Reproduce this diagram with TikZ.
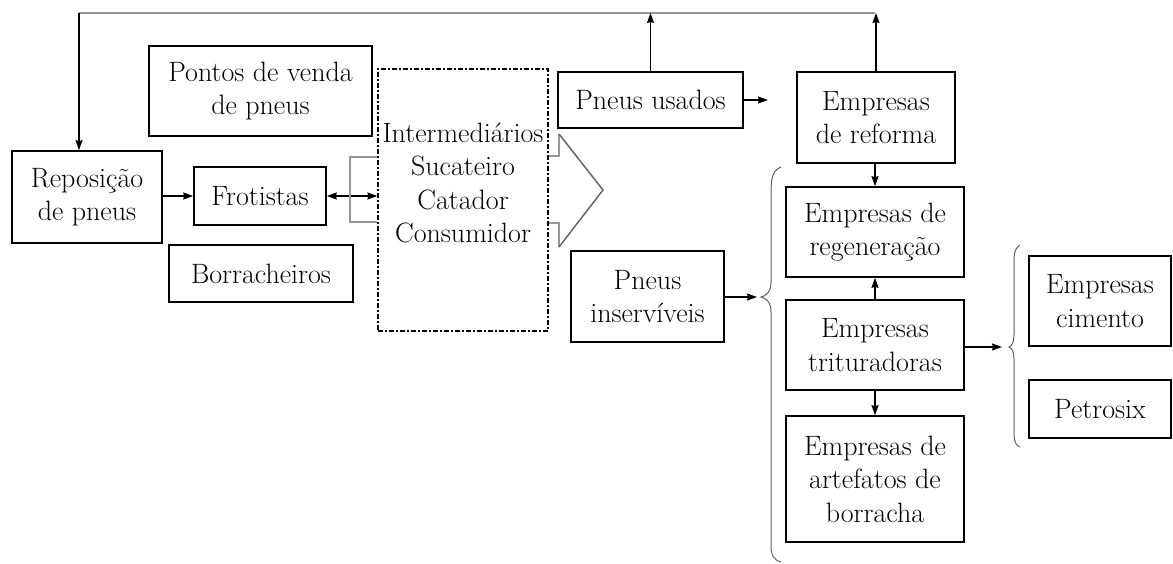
\documentclass[tikz,border=0pt]{standalone}
\usetikzlibrary{arrows.meta}
\definecolor{lgray}{RGB}{150,150,150}
\definecolor{dgray}{RGB}{95,95,95}
\begin{document}
\begin{tikzpicture}[x=1pt,y=-1pt,
  box/.style={draw=black,line width=1.6pt,align=center,inner sep=0pt,
    font=\fontsize{28}{33.5}\selectfont},
  dashbox/.style={draw=black,line width=1.2pt,dash pattern=on 5pt off 2pt on 2pt off 2pt,inner sep=0pt},
  txt/.style={align=center,inner sep=0pt,font=\fontsize{28}{33.5}\selectfont},
  arr/.style={line width=1.5pt,-{Stealth[length=10pt,width=7pt,inset=1pt]}},
  dbl/.style={line width=1.5pt,{Stealth[length=10pt,width=7pt,inset=1pt]}-{Stealth[length=10pt,width=7pt,inset=1pt]}},
  grayline/.style={draw=lgray,line width=1.8pt},
  bracestyle/.style={draw=dgray,line width=1pt}]
\useasboundingbox (0,0) rectangle (1173,563);

% boxes
\node[box,minimum width=150pt,minimum height=92pt] (rep) at (87,197) {Reposição\\de pneus};
\node[box,minimum width=223pt,minimum height=90pt] (pontos) at (260.5,91) {Pontos de venda\\de pneus};
\node[box,minimum width=132pt,minimum height=58pt] (frot) at (260,196) {Frotistas};
\node[box,minimum width=184pt,minimum height=57pt] (borr) at (261,273.5) {Borracheiros};
\node[dashbox,minimum width=170pt,minimum height=262pt] (inter) at (463,200) {};
\node[txt] (intertxt) at (463,183) {Intermediários\\Sucateiro\\Catador\\Consumidor};
\node[box,minimum width=185pt,minimum height=56pt] (usados) at (650.5,100) {Pneus usados};
\node[box,minimum width=158pt,minimum height=91pt] (reforma) at (876,117.5) {Empresas\\de reforma};
\node[box,minimum width=178pt,minimum height=90pt] (regen) at (875,232) {Empresas de\\regeneração};
\node[box,minimum width=178pt,minimum height=90pt] (trit) at (875,345) {Empresas\\trituradoras};
\node[box,minimum width=178pt,minimum height=126pt] (artef) at (875,479) {Empresas de\\artefatos de\\borracha};
\node[box,minimum width=153pt,minimum height=91pt] (inserv) at (647.5,296.5) {Pneus\\inservíveis};
\node[box,minimum width=142pt,minimum height=90pt] (cimento) at (1100,301) {Empresas\\cimento};
\node[box,minimum width=142pt,minimum height=58pt] (petro) at (1100,409) {Petrosix};

% top feedback line
\coordinate (tl) at (79,13);
\coordinate (tr) at (875,13);
\draw[grayline] (tl) -- (tr);
\draw[arr] (tl) -- (tl |- rep.north);
\draw[arr] (usados.north) -- (usados.north |- tl);
\draw[arr] (reforma.north) -- (reforma.north |- tl);

% other connectors
\coordinate (usadosend) at (768,100);
\draw[arr] (usados.east) -- (usadosend);
\draw[arr] (rep.east |- frot.west) -- (frot.west);
\draw[dbl] (frot.east) -- (frot.east -| inter.west);
\draw[arr] (reforma.south -| regen.north) -- (regen.north);
\draw[arr] (trit.north) -- (regen.south);
\draw[arr] (trit.south) -- (artef.north);
\coordinate (bigtip) at (757,297);
\draw[arr] (inserv.east |- bigtip) -- (bigtip);
\coordinate (smalltip) at (1002,347);
\draw[arr] (trit.east |- smalltip) -- (smalltip);

% big chevron arrow through intermediaries
\draw[grayline,line width=1.5pt] (inter.west |- 0,157) -- (350,157) -- (350,222) -- (inter.west |- 0,222);
\draw[grayline,line width=1.5pt] (inter.east |- 0,156) -- (559,156) -- (559,134);
\draw[grayline,line width=1.5pt] (inter.east |- 0,223) -- (559,223) -- (559,247);
\draw[draw=dgray,line width=1.4pt] (559,134) -- (603,190) -- (559,247);

% braces
\draw[bracestyle] (781,167) .. controls (773,170) and (771,178) .. (771,192)
  -- (771,282) .. controls (771,292) and (766,296) .. (761,297)
  .. controls (766,298) and (771,302) .. (771,312)
  -- (771,545) .. controls (771,556) and (774,560) .. (781,562);
\draw[bracestyle] (1020,245) .. controls (1016,247) and (1014,252) .. (1014,260)
  -- (1014,335) .. controls (1014,342) and (1012,346) .. (1009,347)
  .. controls (1012,348) and (1014,352) .. (1014,359)
  -- (1014,434) .. controls (1014,441) and (1016,446) .. (1020,447);
\end{tikzpicture}
\end{document}
